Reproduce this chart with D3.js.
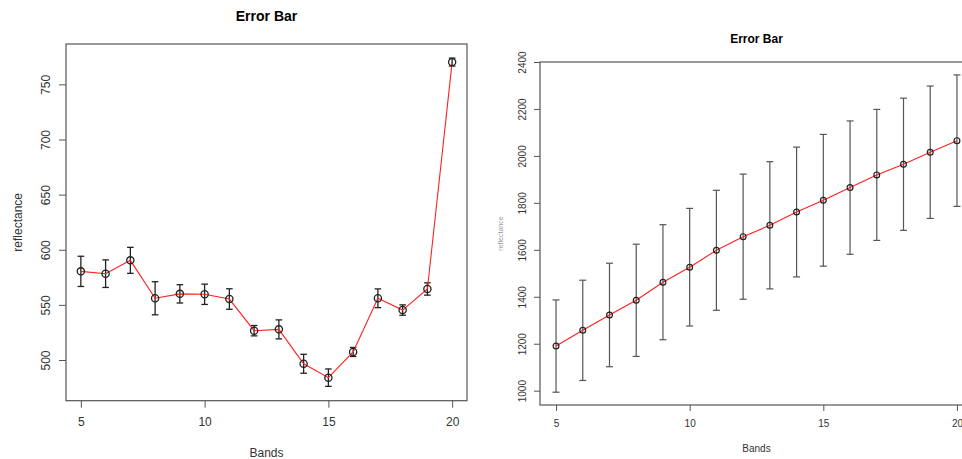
<!DOCTYPE html>
<html lang="en">
<head>
    <meta charset="UTF-8">
    <title>Error Bar</title>
    <style>
        body { margin: 0; background: #fff; }
        text { font-family: "Liberation Sans", Arial, Helvetica, sans-serif; }
        .title { font-weight: bold; fill: #000; }
        .axis text { fill: #333; }
        .axis path { display: none; }
        .axis line { stroke: #555; }
        .frame { fill: none; stroke: #555; stroke-width: 1.2; }
        .series { fill: none; stroke: #ff2020; stroke-width: 1.1; }
        .point { fill: none; stroke: #222; }
    </style>
    <script src="https://d3js.org/d3.v7.min.js"></script>
</head>
<body>
    <svg id="chart" width="962" height="459"></svg>
    <script>
        // shared x categories
        const bands = [5, 6, 7, 8, 9, 10, 11, 12, 13, 14, 15, 16, 17, 18, 19, 20];
        const xTicks = [5, 10, 15, 20];

        // left panel
        const leftMean = [580.4, 578.3, 590.4, 556, 560, 559.6, 555.3, 526.6, 527.8, 496.6, 484, 507.3, 556, 545.3, 564.4, 770.2];
        const leftErr = [13.7, 12.5, 11.8, 15, 8.3, 9.2, 9.3, 4.7, 8.6, 8.6, 7.9, 4.1, 8.5, 4.7, 5.6, 3.6];
        const leftYTicks = [500, 550, 600, 650, 700, 750];

        // right panel
        const rightMean = [1190, 1257, 1322.5, 1385, 1462, 1526, 1598, 1656, 1704.5, 1761, 1811, 1865, 1919, 1964.5, 2015.6, 2065];
        const rightErr = [196.5, 213.5, 220.5, 239, 245, 250.5, 255.6, 266.5, 271, 276.5, 280.5, 284, 279, 281.5, 282, 280];
        const rightYTicks = [1000, 1200, 1400, 1600, 1800, 2000, 2200, 2400];

        const svg = d3.select("#chart");

        function panel(opt) {
            const g = svg.append("g");
            const x = d3.scaleLinear().domain([4.4, 20.6]).range([opt.left, opt.right]);
            const y = d3.scaleLinear().domain(opt.yDomain).range([opt.bottom, opt.top]);

            g.append("rect")
                .attr("class", "frame")
                .attr("x", opt.left)
                .attr("y", opt.top)
                .attr("width", opt.right - opt.left)
                .attr("height", opt.bottom - opt.top);

            // x axis
            const xa = g.append("g")
                .attr("class", "axis")
                .attr("transform", `translate(0,${opt.bottom})`)
                .call(d3.axisBottom(x).tickValues(xTicks).tickSize(opt.tick).tickPadding(opt.xPad).tickFormat(d3.format("d")));
            xa.selectAll("text").style("font-size", opt.tickFont + "px");

            // y axis with labels parallel to axis
            const ya = g.append("g")
                .attr("class", "axis")
                .attr("transform", `translate(${opt.left},0)`)
                .call(d3.axisLeft(y).tickValues(opt.yTicks).tickSize(opt.tick).tickFormat(d3.format("d")));
            ya.selectAll("text")
                .attr("x", 0)
                .attr("y", -opt.yPad)
                .attr("dy", 0)
                .attr("text-anchor", "middle")
                .attr("transform", "rotate(-90)")
                .style("font-size", opt.tickFont + "px");

            // error bars
            const bars = g.append("g").selectAll("g")
                .data(bands.map((b, i) => ({ b, m: opt.mean[i], e: opt.err[i] })))
                .join("g")
                .attr("stroke", opt.barColor)
                .attr("stroke-width", opt.barWidth);
            bars.append("line")
                .attr("x1", d => x(d.b)).attr("x2", d => x(d.b))
                .attr("y1", d => y(d.m - d.e)).attr("y2", d => y(d.m + d.e));
            bars.append("line")
                .attr("x1", d => x(d.b) - opt.cap).attr("x2", d => x(d.b) + opt.cap)
                .attr("y1", d => y(d.m + d.e)).attr("y2", d => y(d.m + d.e));
            bars.append("line")
                .attr("x1", d => x(d.b) - opt.cap).attr("x2", d => x(d.b) + opt.cap)
                .attr("y1", d => y(d.m - d.e)).attr("y2", d => y(d.m - d.e));

            // mean line
            const line = d3.line().x((d, i) => x(bands[i])).y(d => y(d));
            g.append("path")
                .datum(opt.mean)
                .attr("class", "series")
                .attr("d", line);

            g.append("g").selectAll("circle")
                .data(opt.mean)
                .join("circle")
                .attr("class", "point")
                .attr("cx", (d, i) => x(bands[i]))
                .attr("cy", d => y(d))
                .attr("r", opt.r)
                .attr("stroke-width", opt.pointWidth);

            // titles and labels
            const cx = (opt.left + opt.right) / 2;
            g.append("text")
                .attr("class", "title")
                .attr("x", cx)
                .attr("y", opt.titleY)
                .attr("text-anchor", "middle")
                .style("font-size", opt.titleFont + "px")
                .text("Error Bar");
            g.append("text")
                .attr("x", cx)
                .attr("y", opt.xLabelY)
                .attr("text-anchor", "middle")
                .attr("fill", "#333")
                .style("font-size", opt.labelFont + "px")
                .text("Bands");
            g.append("text")
                .attr("transform", `translate(${opt.yLabelX},${(opt.top + opt.bottom) / 2}) rotate(-90)`)
                .attr("text-anchor", "middle")
                .attr("fill", opt.yLabelColor)
                .style("font-size", opt.yLabelFont + "px")
                .text("reflectance");
        }

        panel({
            left: 66, right: 467, top: 44, bottom: 400.7,
            yDomain: [463.1, 786.6], yTicks: leftYTicks,
            mean: leftMean, err: leftErr,
            tick: 7, xPad: 10, yPad: 16, tickFont: 12,
            barColor: "#222", barWidth: 1.3, cap: 3.3,
            r: 3.6, pointWidth: 1.3,
            titleY: 20.5, titleFont: 14,
            xLabelY: 457, labelFont: 12,
            yLabelX: 22, yLabelFont: 12, yLabelColor: "#333"
        });

        panel({
            left: 540, right: 973, top: 62, bottom: 405,
            yDomain: [939, 2400], yTicks: rightYTicks,
            mean: rightMean, err: rightErr,
            tick: 6, xPad: 9, yPad: 14, tickFont: 10,
            barColor: "#555", barWidth: 1.2, cap: 3.5,
            r: 2.9, pointWidth: 1.2,
            titleY: 43, titleFont: 12,
            xLabelY: 452, labelFont: 10,
            yLabelX: 503, yLabelFont: 7, yLabelColor: "#999"
        });
    </script>
</body>
</html>
